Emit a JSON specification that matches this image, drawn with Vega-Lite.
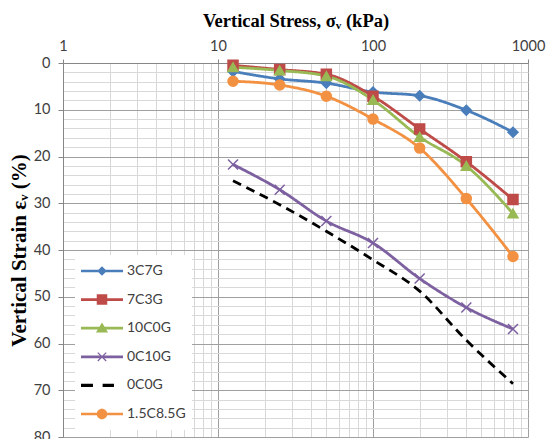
{
  "$schema": "https://vega.github.io/schema/vega-lite/v6.json",
  "width": 465,
  "height": 374,
  "autosize": "none",
  "padding": {"left": 63, "top": 63, "right": 18, "bottom": 2},
  "background": "white",
  "view": {"stroke": null},
  "data": {
    "values": [
      {"series": "3C7G", "stress": 12.5, "strain": 1.8},
      {"series": "3C7G", "stress": 25, "strain": 3.4},
      {"series": "3C7G", "stress": 50, "strain": 4.3},
      {"series": "3C7G", "stress": 100, "strain": 6.2},
      {"series": "3C7G", "stress": 200, "strain": 7.0},
      {"series": "3C7G", "stress": 400, "strain": 10.1},
      {"series": "3C7G", "stress": 800, "strain": 14.8},
      {"series": "7C3G", "stress": 12.5, "strain": 0.5},
      {"series": "7C3G", "stress": 25, "strain": 1.4},
      {"series": "7C3G", "stress": 50, "strain": 2.4},
      {"series": "7C3G", "stress": 100, "strain": 7.1},
      {"series": "7C3G", "stress": 200, "strain": 14.1},
      {"series": "7C3G", "stress": 400, "strain": 21.1},
      {"series": "7C3G", "stress": 800, "strain": 29.2},
      {"series": "10C0G", "stress": 12.5, "strain": 0.9},
      {"series": "10C0G", "stress": 25, "strain": 1.6},
      {"series": "10C0G", "stress": 50, "strain": 2.8},
      {"series": "10C0G", "stress": 100, "strain": 7.9},
      {"series": "10C0G", "stress": 200, "strain": 15.8},
      {"series": "10C0G", "stress": 400, "strain": 22.0},
      {"series": "10C0G", "stress": 800, "strain": 32.2},
      {"series": "0C10G", "stress": 12.5, "strain": 21.7},
      {"series": "0C10G", "stress": 25, "strain": 27.1},
      {"series": "0C10G", "stress": 50, "strain": 33.8},
      {"series": "0C10G", "stress": 100, "strain": 38.5},
      {"series": "0C10G", "stress": 200, "strain": 46.1},
      {"series": "0C10G", "stress": 400, "strain": 52.3},
      {"series": "0C10G", "stress": 800, "strain": 56.9},
      {"series": "0C0G", "stress": 12.5, "strain": 25.2},
      {"series": "0C0G", "stress": 25, "strain": 30.3},
      {"series": "0C0G", "stress": 50, "strain": 36.0},
      {"series": "0C0G", "stress": 100, "strain": 42.1},
      {"series": "0C0G", "stress": 200, "strain": 48.8},
      {"series": "0C0G", "stress": 400, "strain": 59.3},
      {"series": "0C0G", "stress": 800, "strain": 68.6},
      {"series": "1.5C8.5G", "stress": 12.5, "strain": 3.9},
      {"series": "1.5C8.5G", "stress": 25, "strain": 4.7},
      {"series": "1.5C8.5G", "stress": 50, "strain": 7.1},
      {"series": "1.5C8.5G", "stress": 100, "strain": 12.0},
      {"series": "1.5C8.5G", "stress": 200, "strain": 18.2},
      {"series": "1.5C8.5G", "stress": 400, "strain": 29.0},
      {"series": "1.5C8.5G", "stress": 800, "strain": 41.4}
    ]
  },
  "encoding": {
    "x": {
      "field": "stress",
      "type": "quantitative",
      "scale": {"type": "log", "domain": [1, 1000], "nice": false},
      "axis": {
        "orient": "top",
        "title": "Vertical Stress, σᵥ (kPa)",
        "values": [1,2,3,4,5,6,7,8,9,10,20,30,40,50,60,70,80,90,100,200,300,400,500,600,700,800,900,1000],
        "labelExpr": "(datum.value == 1 || datum.value == 10 || datum.value == 100 || datum.value == 1000) ? format(datum.value, 'd') : ''",
        "labelOverlap": false,
        "labelFlush": false,
        "labelFont": "Lato",
        "labelFontSize": 14.5,
        "labelColor": "#404040",
        "labelPadding": 6,
        "tickSize": 4,
        "tickColor": {"condition": {"test": "datum.value == 1 || datum.value == 10 || datum.value == 100 || datum.value == 1000", "value": "#868686"}, "value": "transparent"},
        "domainColor": "#868686",
        "grid": true,
        "gridColor": {"condition": {"test": "datum.value == 1 || datum.value == 10 || datum.value == 100 || datum.value == 1000", "value": "#A0A0A0"}, "value": "#D9D9D9"},
        "gridWidth": 1,
        "titleFont": "Liberation Serif",
        "titleFontSize": 18.5,
        "titleFontWeight": "bold",
        "titleColor": "#000000",
        "titlePadding": 8
      }
    },
    "y": {
      "field": "strain",
      "type": "quantitative",
      "scale": {"domain": [0, 80], "reverse": true, "nice": false},
      "axis": {
        "title": "Vertical Strain εᵥ (%)",
        "values": [0,2,4,6,8,10,12,14,16,18,20,22,24,26,28,30,32,34,36,38,40,42,44,46,48,50,52,54,56,58,60,62,64,66,68,70,72,74,76,78,80],
        "labelExpr": "datum.value % 10 == 0 ? format(datum.value, 'd') : ''",
        "labelOverlap": false,
        "labelFlush": false,
        "labelFont": "Lato",
        "labelFontSize": 14.5,
        "labelColor": "#404040",
        "labelPadding": 8,
        "tickSize": 5,
        "tickColor": {"condition": {"test": "datum.value % 10 == 0", "value": "#868686"}, "value": "transparent"},
        "domainColor": "#868686",
        "grid": true,
        "gridColor": {"condition": {"test": "datum.value % 10 == 0", "value": "#A0A0A0"}, "value": "#D9D9D9"},
        "gridWidth": 1,
        "titleFont": "Liberation Serif",
        "titleFontSize": 21,
        "titleFontWeight": "bold",
        "titleColor": "#000000",
        "titlePadding": 4
      }
    }
  },
  "layer": [
    {
      "mark": {"type": "line", "interpolate": "monotone", "strokeWidth": 2.8},
      "encoding": {
        "color": {
          "field": "series", "type": "nominal",
          "scale": {"domain": ["3C7G", "7C3G", "10C0G", "0C10G", "0C0G", "1.5C8.5G"], "range": ["#4A7EBB", "#BE4B48", "#98B954", "#7D60A0", "#000000", "#F39142"]},
          "legend": null
        },
        "strokeDash": {
          "field": "series", "type": "nominal",
          "scale": {"domain": ["3C7G", "7C3G", "10C0G", "0C10G", "0C0G", "1.5C8.5G"], "range": [[1, 0], [1, 0], [1, 0], [1, 0], [9, 6], [1, 0]]},
          "legend": null
        }
      }
    },
    {
      "transform": [{"filter": "datum.series != '0C0G'"}],
      "mark": {"type": "point", "filled": true, "opacity": 1, "size": 100, "strokeWidth": 1.5},
      "encoding": {
        "color": {
          "field": "series", "type": "nominal",
          "scale": {"domain": ["3C7G", "7C3G", "10C0G", "0C10G", "0C0G", "1.5C8.5G"], "range": ["#4A7EBB", "#BE4B48", "#98B954", "#7D60A0", "#000000", "#F39142"]},
          "legend": null
        },
        "stroke": {
          "field": "series", "type": "nominal",
          "scale": {"domain": ["3C7G", "7C3G", "10C0G", "0C10G", "0C0G", "1.5C8.5G"], "range": ["#4A7EBB", "#BE4B48", "#98B954", "#7D60A0", "#000000", "#F39142"]},
          "legend": null
        },
        "shape": {
          "field": "series", "type": "nominal",
          "scale": {"domain": ["3C7G", "7C3G", "10C0G", "0C10G", "0C0G", "1.5C8.5G"], "range": ["diamond", "square", "triangle-up", "M-1,-1L1,1M-1,1L1,-1", "circle", "circle"]},
          "legend": null
        }
      }
    },
    {
      "mark": {"type": "point", "filled": true, "opacity": 0},
      "encoding": {
        "color": {
          "field": "series", "type": "nominal",
          "scale": {"domain": ["3C7G", "7C3G", "10C0G", "0C10G", "0C0G", "1.5C8.5G"], "range": ["#4A7EBB", "#BE4B48", "#98B954", "#7D60A0", "#000000", "#F39142"]},
          "legend": {
            "title": null,
            "orient": "none",
            "legendX": 12,
            "legendY": 192,
            "padding": 6,
            "fillColor": "white",
            "symbolSize": 1764,
            "symbolStrokeWidth": 0,
            "symbolOpacity": 1,
            "clipHeight": 20,
            "rowPadding": 8.6,
            "labelOffset": 4,
            "labelFont": "Lato",
            "labelFontSize": 14,
            "labelColor": "#404040",
            "encode": {"symbols": {"update": {"opacity": {"value": 1}, "fillOpacity": {"value": 1}}}}
          }
        },
        "shape": {
          "field": "series", "type": "nominal",
          "scale": {"domain": ["3C7G", "7C3G", "10C0G", "0C10G", "0C0G", "1.5C8.5G"], "range": [
            "M-1,-0.065H1V0.065H-1Z M0,-0.23L0.23,0L0,0.23L-0.23,0Z",
            "M-1,-0.065H1V0.065H-1Z M-0.25,-0.25H0.25V0.25H-0.25Z",
            "M-1,-0.065H1V0.065H-1Z M0,-0.27L0.29,0.21H-0.29Z",
            "M-1,-0.065H1V0.065H-1Z M-0.179,-0.221L0.221,0.179L0.179,0.221L-0.221,-0.179Z M-0.179,0.221L-0.221,0.179L0.179,-0.221L0.221,-0.179Z",
            "M-1,-0.075H-0.43V0.075H-1Z M0.03,-0.075H0.57V0.075H0.03Z",
            "M-1,-0.065H1V0.065H-1Z M0.25,0A0.25,0.25 0 1,1 -0.25,0A0.25,0.25 0 1,1 0.25,0Z"
          ]},
          "legend": {"title": null}
        }
      }
    }
  ],
  "resolve": {"scale": {"color": "independent", "shape": "independent"}}
}
